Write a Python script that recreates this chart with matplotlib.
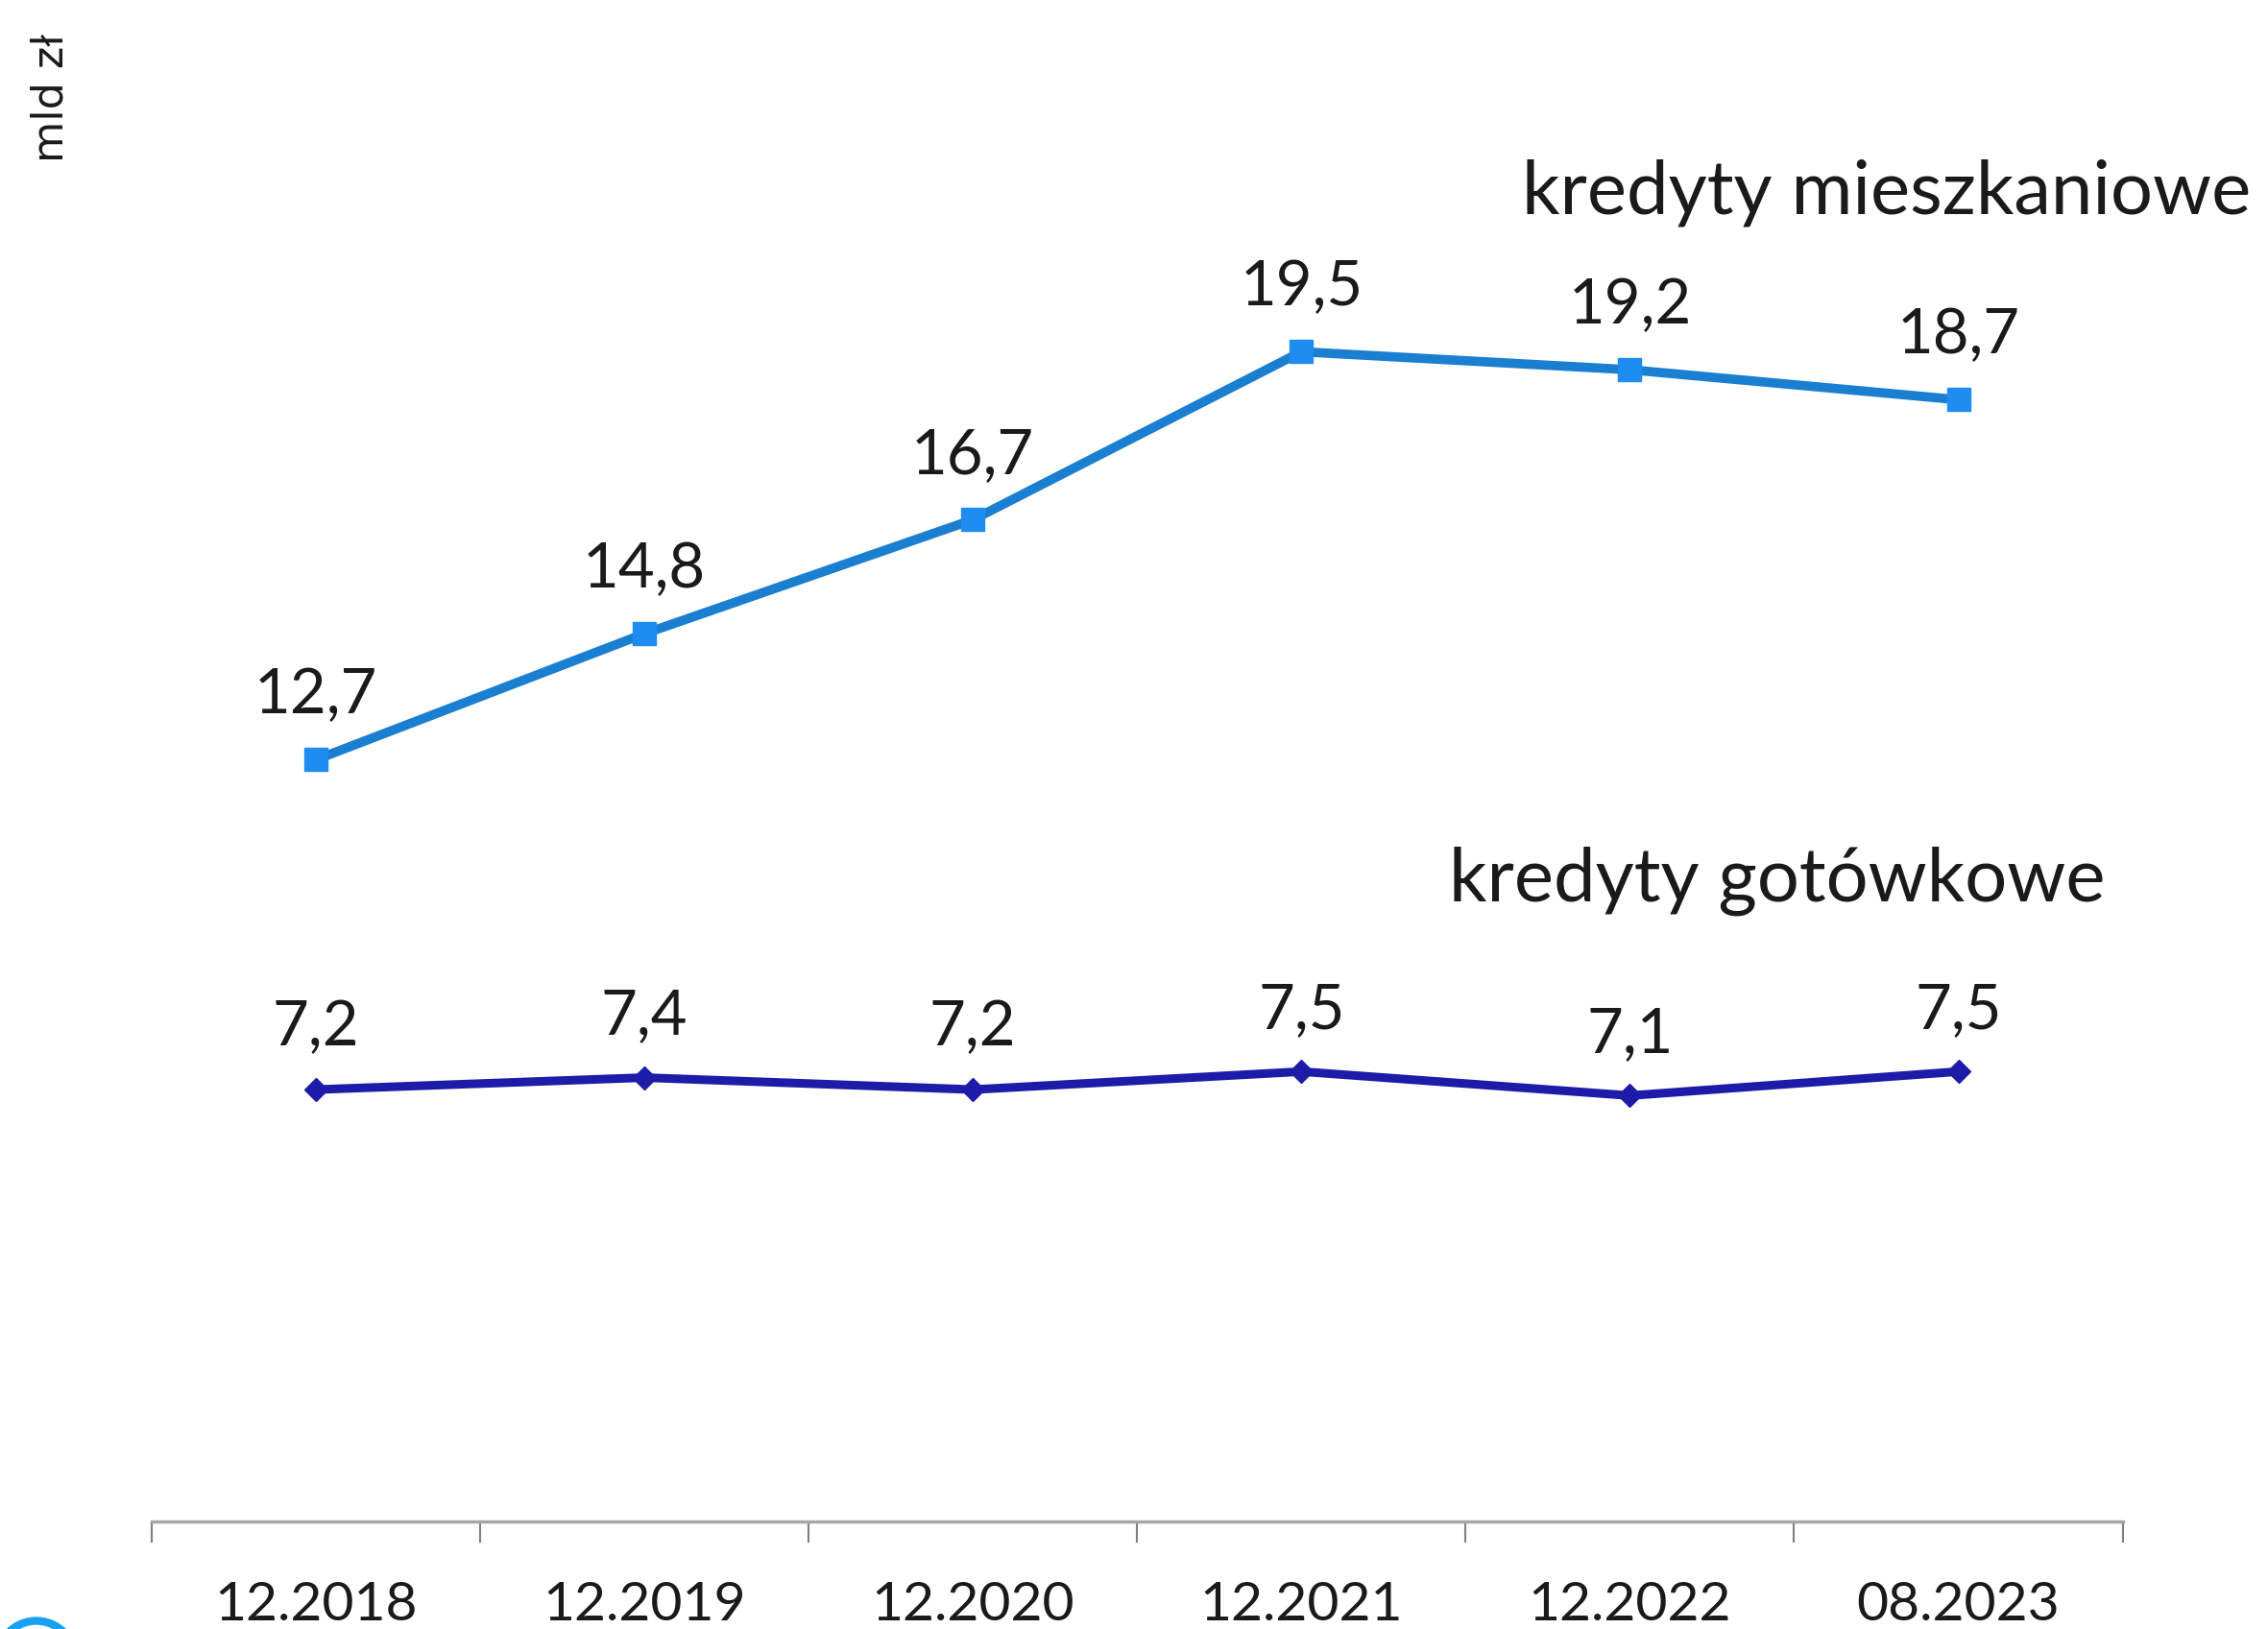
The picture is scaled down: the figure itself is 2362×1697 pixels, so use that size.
import matplotlib
matplotlib.use("Agg")
import matplotlib.pyplot as plt
from matplotlib.patches import Arc

# Data
periods = ["12.2018", "12.2019", "12.2020", "12.2021", "12.2022", "08.2023"]
mieszkaniowe = [12.7, 14.8, 16.7, 19.5, 19.2, 18.7]
gotowkowe = [7.2, 7.4, 7.2, 7.5, 7.1, 7.5]

plt.rcParams["font.family"] = ["Lato", "DejaVu Sans"]

fig = plt.figure(figsize=(23.62, 16.97), dpi=100)
ax = fig.add_axes([0.0669, 0.066, 0.869, 0.9206])

x = range(len(periods))
ax.plot(x, mieszkaniowe, color="#1a7fd0", lw=7, marker="s", markersize=17,
        markerfacecolor="#1e8cf0", markeredgecolor="#1e8cf0", solid_joinstyle="miter")
ax.plot(x, gotowkowe, color="#1c1ca8", lw=6.5, marker="D", markersize=12,
        markerfacecolor="#1c1ca8", markeredgecolor="#1c1ca8")

# value labels
for i, v in enumerate(mieszkaniowe):
    ax.annotate(f"{v:.1f}".replace(".", ","), (i, v), xytext=(0, 27),
                textcoords="offset points", ha="center", va="bottom", fontsize=47, color="#1a1a1a")
for i, v in enumerate(gotowkowe):
    ax.annotate(f"{v:.1f}".replace(".", ","), (i, v), xytext=(0, 25),
                textcoords="offset points", ha="center", va="bottom", fontsize=47, color="#1a1a1a")

# series names
ax.text(3.67, 21.8, "kredyty mieszkaniowe", fontsize=56, ha="left", va="baseline", color="#1a1a1a")
ax.text(3.45, 10.34, "kredyty gotówkowe", fontsize=56, ha="left", va="baseline", color="#1a1a1a")

ax.set_xlim(-0.5, 5.5)
ax.set_ylim(0, 25)

# axis styling
for s in ["left", "right", "top"]:
    ax.spines[s].set_visible(False)
ax.spines["bottom"].set_color("#a6a6a6")
ax.spines["bottom"].set_linewidth(2.5)
ax.set_yticks([])
ax.set_xticks([i - 0.5 for i in range(len(periods) + 1)])
ax.set_xticklabels([])
ax.tick_params(axis="x", which="major", direction="out", length=16, width=1.5, color="#808080")
ax.set_xticks(list(x), minor=True)
ax.set_xticklabels(periods, minor=True)
ax.tick_params(axis="x", which="minor", length=0, pad=45, labelsize=41, labelcolor="#1a1a1a")

fig.text(0.0224, 0.94, "mld zł", rotation=90, fontsize=32, ha="center", va="center",
         family=["DejaVu Sans"], color="#1a1a1a")

# logo fragment in corner
fig.patches.append(Arc((0.016, -0.02), 0.035, 0.05, theta1=30, theta2=150,
                       transform=fig.transFigure, color="#1aa0f0", lw=6))

fig.savefig("out.png", dpi=100, facecolor="white")
